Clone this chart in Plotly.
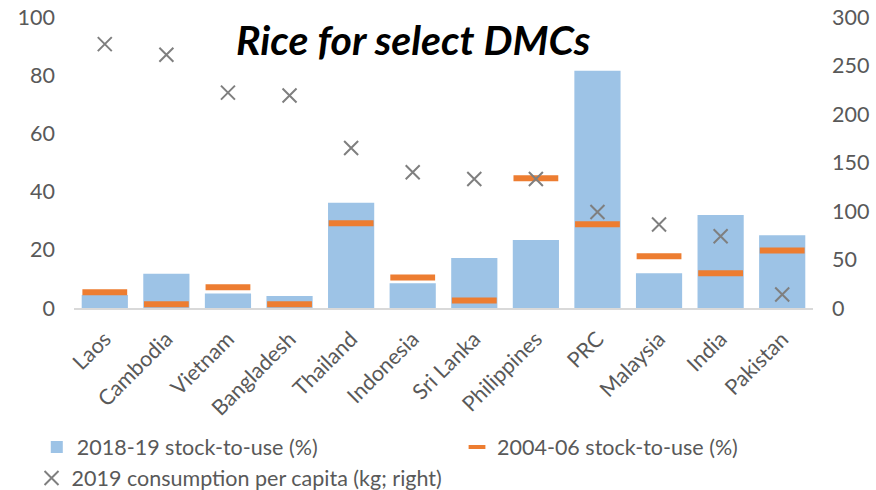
import plotly.graph_objects as go

countries = ["Laos", "Cambodia", "Vietnam", "Bangladesh", "Thailand", "Indonesia",
             "Sri Lanka", "Philippines", "PRC", "Malaysia", "India", "Pakistan"]
stock_2018_19 = [4.5, 11.8, 5.0, 4.1, 36.2, 8.5, 17.2, 23.4, 81.5, 11.9, 32.0, 25.0]
stock_2004_06 = [5.4, 1.3, 7.1, 1.3, 29.1, 10.5, 2.6, 44.6, 28.8, 17.8, 11.9, 19.8]
consumption_2019 = [272, 261, 222, 219, 165, 140, 133, 133, 99, 86, 74, 14]

FONT = "Lato"
GREY = "#595959"
ORANGE = "#ED7D31"
FS = 21.5

fig = go.Figure()

fig.add_trace(go.Bar(
    x=countries, y=stock_2018_19, name="2018-19 stock-to-use (%)",
    marker=dict(color="#9DC3E6", line=dict(width=0)),
    yaxis="y", legend="legend",
))

fig.add_trace(go.Scatter(
    x=countries, y=stock_2004_06, name="2004-06 stock-to-use (%)",
    mode="markers",
    marker=dict(symbol="line-ew", size=32, color=ORANGE,
                line=dict(color=ORANGE, width=6)),
    yaxis="y", showlegend=False,
))
# compact legend key for the 2004-06 dashes (no visible points)
fig.add_trace(go.Scatter(
    x=countries[:1], y=[None], name="2004-06 stock-to-use (%)",
    mode="markers",
    marker=dict(symbol="line-ew", size=12, color=ORANGE,
                line=dict(color=ORANGE, width=4)),
    yaxis="y", legend="legend2",
))

fig.add_trace(go.Scatter(
    x=countries, y=consumption_2019, name="2019 consumption per capita (kg; right)",
    mode="markers",
    marker=dict(symbol="x-thin", size=14, color="#7F7F7F",
                line=dict(color="#7F7F7F", width=2)),
    yaxis="y2", legend="legend3",
))

legend_common = dict(
    orientation="h", xanchor="left", yanchor="middle",
    xref="container", yref="container",
    font=dict(family=FONT, size=FS, color=GREY),
    bgcolor="rgba(0,0,0,0)",
)

fig.update_layout(
    width=876, height=490,
    margin=dict(l=74, r=63, t=17, b=182, autoexpand=False),
    paper_bgcolor="white", plot_bgcolor="white",
    bargap=0.25,
    font=dict(family=FONT, color=GREY, size=FS),
    showlegend=True,
    legend=dict(x=0.042, y=0.0878, **legend_common),
    legend2=dict(x=0.5217, y=0.0878, **legend_common),
    legend3=dict(x=0.036, y=0.0245, **legend_common),
    xaxis=dict(
        type="category", categoryorder="array", categoryarray=countries,
        range=[-0.5, len(countries) - 0.5],
        tickangle=-45, showgrid=False, showline=True, linecolor="#D9D9D9",
        linewidth=2, ticks="", tickfont=dict(size=FS, color=GREY),
        automargin=False, ticklabelstandoff=8,
    ),
    yaxis=dict(
        range=[0, 100], dtick=20, showgrid=False, zeroline=False,
        showline=False, ticks="", tickfont=dict(size=FS, color=GREY),
        automargin=False, ticklabelstandoff=18,
    ),
    yaxis2=dict(
        range=[0, 300], dtick=50, overlaying="y", side="right",
        showgrid=False, zeroline=False, showline=False, ticks="",
        tickfont=dict(size=FS, color=GREY),
        automargin=False, ticklabelstandoff=18,
    ),
    annotations=[dict(
        text="<b><i>Rice for select DMCs</i></b>", x=0.46, y=0.921,
        xref="paper", yref="paper", yanchor="middle", showarrow=False,
        font=dict(family=FONT, size=41, color="black"),
    )],
)

fig.write_html("out.html")
